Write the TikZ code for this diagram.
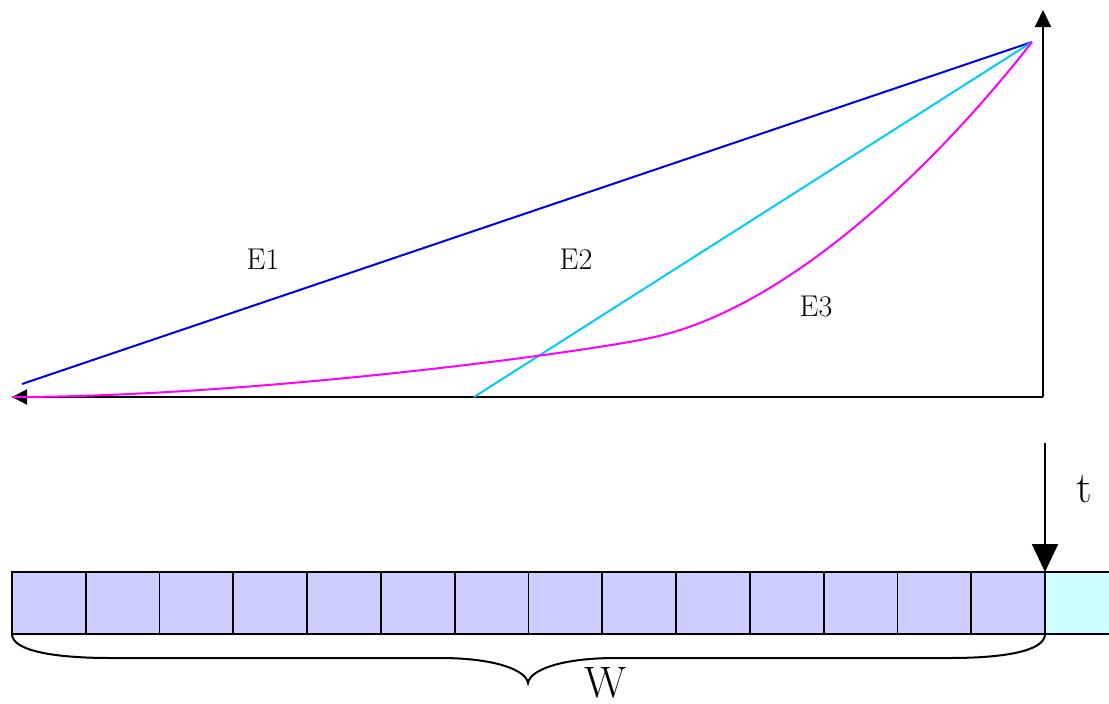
\documentclass[tikz,border=0pt]{standalone}
\usetikzlibrary{arrows.meta}
\definecolor{cellblue}{HTML}{CCCCFF}
\definecolor{cellcyan}{HTML}{CCFFFF}
\definecolor{eone}{HTML}{0000EE}
\definecolor{etwo}{HTML}{00CCFF}
\definecolor{ethree}{HTML}{FF00FF}
\begin{document}
\begin{tikzpicture}[x=1pt,y=-1pt,
  axis/.style={line width=2pt,black},
  curve/.style={line width=2pt},
  lbl/.style={font=\fontsize{30}{32}\selectfont,inner sep=0pt},
  biglbl/.style={font=\fontsize{44}{46}\selectfont,inner sep=0pt},
  cellbox/.style={draw=black,line width=1.8pt,fill=cellblue},
  cellbox2/.style={draw=black,line width=1.8pt,fill=cellcyan}]
\useasboundingbox (0,0) rectangle (1109,704);
\coordinate (O) at (1043,397);
\coordinate (XL) at (12,397);
\coordinate (YT) at (1043,10);
\coordinate (P) at (1032,42);
\coordinate (A1) at (22,384);
\coordinate (A2) at (474,397);
% axes
\draw[axis,-{Triangle[length=15pt,width=15pt]}] (O) -- (XL);
\draw[axis,-{Triangle[length=17pt,width=16pt]}] (O) -- (YT);
% curves
\draw[curve,eone] (A1) -- (P);
\draw[curve,etwo] (A2) -- (P);
\draw[curve,ethree] (XL) .. controls (250,397) and (580,353) .. (650,338)
  .. controls (790,309) and (940,160) .. (P);
% labels
\node[lbl] (e1) at (263,259) {E1};
\node[lbl] (e2) at (576,259) {E2};
\node[lbl] (e3) at (816,307) {E3};
% cells
\foreach \i in {0,...,13} {
  \draw[cellbox] ({12+\i*73.79},572) rectangle ({12+(\i+1)*73.79},634);
}
\draw[cellbox2] (1045,572) rectangle (1115,634);
\coordinate (C) at (1045,572);
% t arrow
\coordinate (T0) at (1045,443);
\draw[line width=2pt,-{Triangle[length=28pt,width=26pt]}] (T0) -- (C);
\node[biglbl] (t) at (1084,489) {t};
% brace
\draw[line width=2pt] (12,634) .. controls (12,652) and (60,658) .. (110,658)
  -- (440,658) .. controls (495,658) and (526,670) .. (528,683)
  .. controls (530,670) and (561,658) .. (616,658)
  -- (950,658) .. controls (1000,658) and (1045,652) .. (1045,634);
\node[biglbl,anchor=base] (w) at (606,697) {W};
\end{tikzpicture}
\end{document}
